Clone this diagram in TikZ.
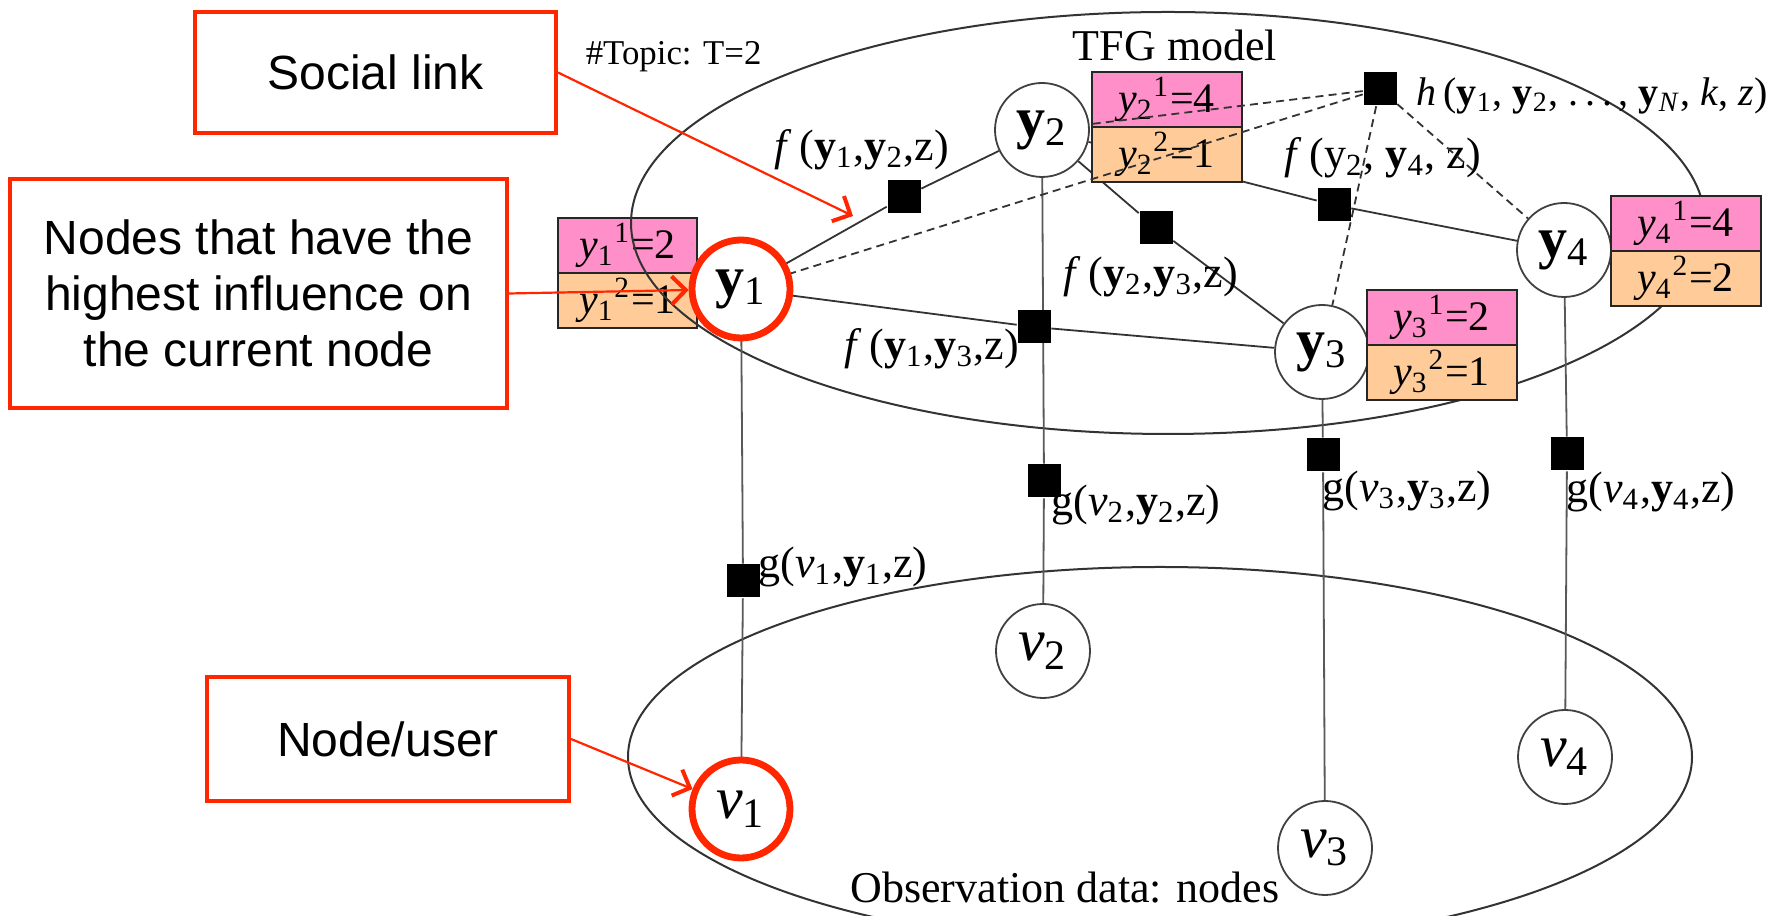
\documentclass[tikz,border=0pt]{standalone}
\usepackage{fontspec}
\setmainfont{Liberation Serif}
\newfontfamily\calloutfont{Liberation Sans}
\usetikzlibrary{arrows.meta}
\definecolor{boxpink}{RGB}{255,143,200}
\definecolor{boxorange}{RGB}{255,204,153}
\definecolor{calloutred}{RGB}{255,38,0}
\pgfdeclarelayer{bg}
\pgfdeclarelayer{fg}
\pgfsetlayers{bg,main,fg}
\newcommand\yb[1]{\textbf{y}\textsubscript{#1}}
\newcommand\vi[1]{\textit{v}\textsubscript{#1}}
\newcommand\cell[3]{\textit{y}\textsubscript{#1}\textsuperscript{#2}=#3}
\begin{document}
\begin{tikzpicture}[x=0.25pt,y=-0.25pt,
  ynode/.style={circle, draw=black!75, line width=0.45pt, fill=white, minimum size=23.5pt, inner sep=0pt, font=\fontsize{14.5}{15}\selectfont},
  vnode/.style={ynode, font=\fontsize{15}{16}\selectfont},
  factor/.style={rectangle, fill=black, minimum size=8.25pt, inner sep=0pt},
  pinkcell/.style={rectangle, draw=black!85, line width=0.5pt, fill=boxpink, minimum width=37.5pt, minimum height=13.75pt, inner sep=0pt, font=\fontsize{10.5}{11}\selectfont},
  orangecell/.style={pinkcell, fill=boxorange},
  lab/.style={inner sep=0pt, font=\fontsize{11}{12}\selectfont},
  callout/.style={rectangle, draw=calloutred, line width=1pt, inner sep=0pt, align=center, font=\calloutfont\fontsize{12}{14}\selectfont},
  redring/.style={circle, draw=calloutred, line width=1.7pt, minimum size=24.5pt, inner sep=0pt},
  redarrow/.style={draw=calloutred, line width=0.55pt, -{Straight Barb[length=3.5pt,width=7pt,line width=1pt]}},
  link/.style={draw=black!80, line width=0.45pt},
  vlink/.style={draw=black!65, line width=0.45pt},
  hlink/.style={draw=black!80, line width=0.45pt, dash pattern=on 2pt off 1.3pt},
  shell/.style={draw=black!80, line width=0.5pt},
]
\useasboundingbox (0,0) rectangle (1778,916);

% variable nodes
\node[ynode] (y1) at (741,289) {\yb{1}};
\node[ynode] (y2) at (1042,130) {\yb{2}};
\node[ynode] (y3) at (1322,352) {\yb{3}};
\node[ynode] (y4) at (1564,250) {\yb{4}};
\node[vnode] (v1) at (741,809) {\vi{1}};
\node[vnode] (v2) at (1043,651) {\vi{2}};
\node[vnode] (v3) at (1325,848) {\vi{3}};
\node[vnode] (v4) at (1565,757) {\vi{4}};

% topic boxes
\node[pinkcell] (b2t) at (1166.5,99.5) {\cell{2}{1}{4}};
\node[orangecell] (b2b) at (1166.5,154.5) {\cell{2}{2}{1}};
\node[pinkcell] (b3t) at (1441.5,317.5) {\cell{3}{1}{2}};
\node[orangecell] (b3b) at (1441.5,372.5) {\cell{3}{2}{1}};
\node[pinkcell] (b4t) at (1685.5,223.5) {\cell{4}{1}{4}};
\node[orangecell] (b4b) at (1685.5,278.5) {\cell{4}{2}{2}};

% factor nodes
\node[factor] (f12) at (904,197) {};
\node[factor] (f13) at (1034,327) {};
\node[factor] (f23) at (1156,228) {};
\node[factor] (f24) at (1334,205) {};
\node[factor] (h) at (1380,89) {};
\node[factor] (g1) at (743,581) {};
\node[factor] (g2) at (1044,481) {};
\node[factor] (g3) at (1323,455) {};
\node[factor] (g4) at (1567,454) {};

% labels
\node[lab] (tfg) at (1175,45) {TFG model};
\node[lab, font=\fontsize{8.7}{9}\selectfont, anchor=west] (topic) at (585,57) {\#Topic: T=2};
\node[lab] (obs) at (1065,888) {Observation data: nodes};
\node[lab] (lf12) at (862,150) {\textit{f}\,(\yb{1},\yb{2},z)};
\node[lab] (lf13) at (932,349) {\textit{f}\,(\yb{1},\yb{3},z)};
\node[lab] (lf23) at (1151,277) {\textit{f}\,(\yb{2},\yb{3},z)};
\node[lab] (lf24) at (1383,158) {\textit{f}\,(y\textsubscript{2}, \yb{4}, z)};
\node[lab, font=\fontsize{10}{11}\selectfont, anchor=west] (lh) at (1416,96) {\textit{h}\,(\yb{1}, \yb{2}, .\,.\,.\,, \textbf{y}\textsubscript{\textit{N}}, \textit{k}, \textit{z})};
\node[lab] (lg1) at (843,567) {g(\vi{1},\yb{1},z)};
\node[lab] (lg2) at (1136,505) {g(\vi{2},\yb{2},z)};
\node[lab] (lg3) at (1407,491) {g(\vi{3},\yb{3},z)};
\node[lab] (lg4) at (1651,492) {g(\vi{4},\yb{4},z)};

\begin{pgfonlayer}{bg}
  \node[pinkcell, minimum width=34.75pt] (b1t) at (627.5,245.5) {\cell{1}{1}{2}};
  \node[orangecell, minimum width=34.75pt] (b1b) at (627.5,300.5) {\cell{1}{2}{1}};
  \draw[shell] (1168,223) ellipse [x radius=134.25pt, y radius=52.75pt];
  \draw[shell] (1160,757) ellipse [x radius=133pt, y radius=47.5pt];
  \draw[link] (y1) -- (f12) -- (y2);
  \draw[link] (y1) -- (f13) -- (y3);
  \draw[link] (y2) -- (f23) -- (y3);
  \draw[link] (y2) -- (f24) -- (y4);
  \draw[vlink] (y1) -- (g1) -- (v1);
  \draw[vlink] (y2) -- (g2) -- (v2);
  \draw[vlink] (y3) -- (g3) -- (v3);
  \draw[vlink] (y4) -- (g4) -- (v4);
\end{pgfonlayer}

\begin{pgfonlayer}{fg}
  \draw[hlink] (h) -- (y1);
  \draw[hlink] (h) -- (y2);
  \draw[hlink] (h) -- (y3);
  \draw[hlink] (h) -- (y4);
  \node[callout, minimum width=90.25pt, minimum height=30.25pt] (social) at (375.5,72.5) {Social link};
  \node[callout, minimum width=124.25pt, minimum height=57.25pt] (infl) at (258.5,293.5) {Nodes that have the\\highest influence on\\the current node};
  \node[callout, minimum width=90.5pt, minimum height=31pt] (user) at (388,739) {Node/user};
  \node[redring] (ry1) at (741,289) {};
  \node[redring] (rv1) at (741,809) {};
  \coordinate (slink) at (853,216);
  \draw[redarrow] (social.east) -- (slink);
  \draw[redarrow] (infl.east) -- (ry1);
  \draw[redarrow] (user.east) -- (rv1);
\end{pgfonlayer}
\end{tikzpicture}
\end{document}
